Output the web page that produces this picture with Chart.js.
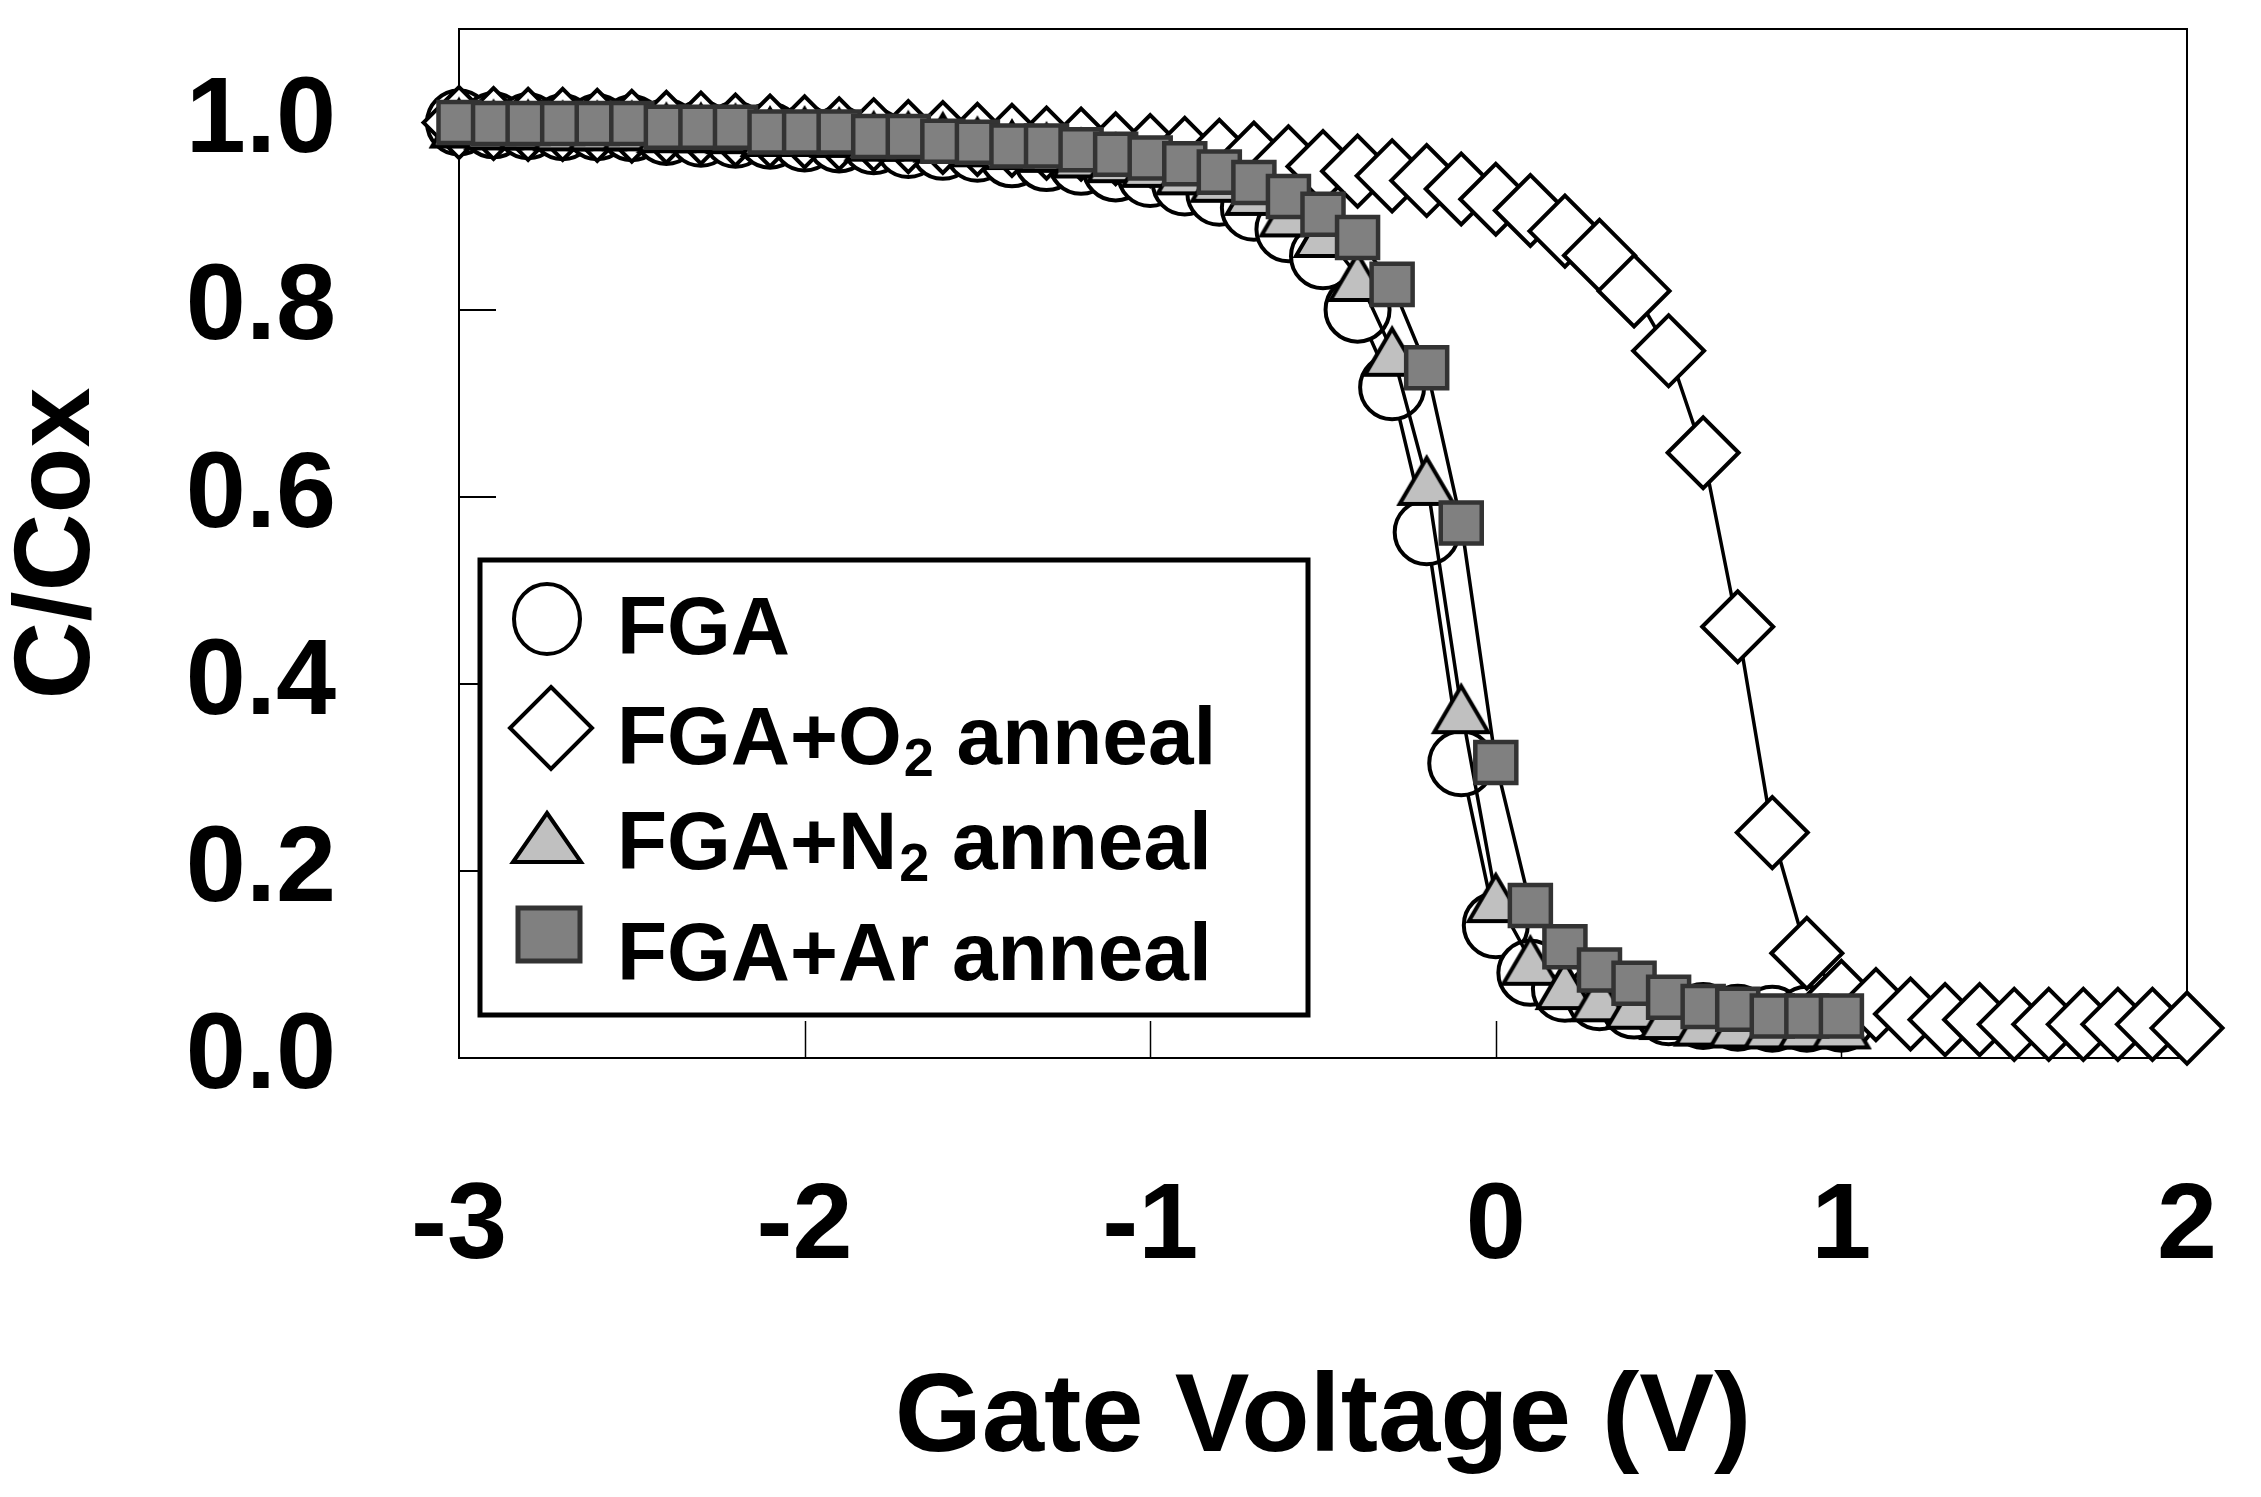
<!DOCTYPE html>
<html>
<head>
<meta charset="utf-8">
<title>C/Cox vs Gate Voltage</title>
<script src="https://cdn.jsdelivr.net/npm/chart.js@4.4.1/dist/chart.umd.min.js"></script>
<style>
    html, body { margin: 0; padding: 0; background: #ffffff; }
    #cv { display: block; }
</style>
</head>
<body>
<canvas id="cv" width="2261" height="1497"></canvas>
<script>
// ======== data ========
// gate voltage (V), 0.1 V steps
const vShort = [-3.0, -2.9, -2.8, -2.7, -2.6, -2.5, -2.4, -2.3, -2.2, -2.1,
    -2.0, -1.9, -1.8, -1.7, -1.6, -1.5, -1.4, -1.3, -1.2, -1.1,
    -1.0, -0.9, -0.8, -0.7, -0.6, -0.5, -0.4, -0.3, -0.2, -0.1,
    0.0, 0.1, 0.2, 0.3, 0.4, 0.5, 0.6, 0.7, 0.8, 0.9, 1.0];
const vLong = vShort.concat([1.1, 1.2, 1.3, 1.4, 1.5, 1.6, 1.7, 1.8, 1.9, 2.0]);

const fga = [1.000, 0.997, 0.996, 0.995, 0.995, 0.994, 0.990, 0.988, 0.987, 0.986,
    0.983, 0.982, 0.980, 0.976, 0.974, 0.972, 0.966, 0.962, 0.958, 0.951,
    0.945, 0.936, 0.925, 0.909, 0.886, 0.857, 0.800, 0.717, 0.562, 0.315,
    0.142, 0.091, 0.074, 0.065, 0.056, 0.049, 0.045, 0.043, 0.042, 0.042, 0.042];

const fgaO2 = [1.000, 0.999, 0.998, 0.998, 0.997, 0.996, 0.995, 0.994, 0.992, 0.991,
    0.990, 0.988, 0.987, 0.985, 0.984, 0.982, 0.981, 0.978, 0.977, 0.972,
    0.970, 0.967, 0.965, 0.962, 0.958, 0.953, 0.948, 0.943, 0.938, 0.929,
    0.918, 0.906, 0.884, 0.858, 0.820, 0.756, 0.647, 0.461, 0.241, 0.112, 0.066,
    0.057, 0.047, 0.041, 0.041, 0.036, 0.036, 0.036, 0.036, 0.036, 0.032];

const fgaN2 = [1.000, 0.998, 0.998, 0.997, 0.997, 0.997, 0.995, 0.995, 0.994, 0.991,
    0.991, 0.990, 0.986, 0.986, 0.985, 0.980, 0.977, 0.974, 0.968, 0.963,
    0.958, 0.950, 0.942, 0.928, 0.905, 0.883, 0.836, 0.756, 0.618, 0.374,
    0.172, 0.105, 0.079, 0.066, 0.058, 0.047, 0.040, 0.038, 0.037, 0.037, 0.037];

const fgaAr = [1.000, 0.999, 0.999, 0.999, 0.999, 0.999, 0.995, 0.995, 0.995, 0.990,
    0.990, 0.990, 0.985, 0.985, 0.980, 0.979, 0.975, 0.975, 0.971, 0.966,
    0.962, 0.956, 0.947, 0.936, 0.921, 0.902, 0.877, 0.827, 0.738, 0.572,
    0.316, 0.163, 0.119, 0.094, 0.080, 0.065, 0.055, 0.052, 0.045, 0.045, 0.045];

// legend rows: main text, subscript, rest
const legendRows = [
    ['FGA', '', ''],
    ['FGA+O', '2', ' anneal'],
    ['FGA+N', '2', ' anneal'],
    ['FGA+Ar anneal', '', '']
];

const xTickMarks = [-2, -1, 0, 1];
const yTickMarks = [0.2, 0.4, 0.6, 0.8, 1.0];

const FONT = '"Liberation Sans", Arial, Helvetica, sans-serif';

function toPoints(xs, ys) {
    return ys.map((y, i) => ({ x: xs[i], y: y }));
}

// triangle marker centred on its bounding box (like the original plot)
function triangleMarker(w, h, fill) {
    const c = document.createElement('canvas');
    c.width = w + 8;
    c.height = h + 8;
    const g = c.getContext('2d');
    g.lineWidth = 4;
    g.lineJoin = 'miter';
    g.fillStyle = fill;
    g.strokeStyle = '#000000';
    g.beginPath();
    g.moveTo(c.width / 2, 4 + 4);
    g.lineTo(c.width - 4, c.height - 4 - 2);
    g.lineTo(4, c.height - 4 - 2);
    g.closePath();
    g.fill();
    g.stroke();
    return c;
}

const triMarker = triangleMarker(54, 52, '#c0c0c0');

// ======== frame + inner tick marks ========
const framePlugin = {
    id: 'frame',
    beforeDatasetsDraw(chart) {
        const ctx = chart.ctx;
        const ca = chart.chartArea;
        const xs = chart.scales.x;
        const ys = chart.scales.y;
        ctx.save();
        ctx.strokeStyle = '#000000';
        ctx.lineWidth = 2;
        ctx.strokeRect(ca.left, ca.top, ca.right - ca.left, ca.bottom - ca.top);

        ctx.lineWidth = 1.5;
        xTickMarks.forEach(v => {
            const px = Math.round(xs.getPixelForValue(v)) + 0.5;
            ctx.beginPath();
            ctx.moveTo(px, ca.bottom);
            ctx.lineTo(px, ca.bottom - 37);
            ctx.stroke();
        });
        ctx.lineWidth = 2;
        yTickMarks.forEach(v => {
            const py = Math.round(ys.getPixelForValue(v));
            ctx.beginPath();
            ctx.moveTo(ca.left, py);
            ctx.lineTo(ca.left + 37, py);
            ctx.stroke();
        });
        ctx.restore();
    }
};

// ======== boxed legend inside the plot ========
const legendPlugin = {
    id: 'boxLegend',
    afterDatasetsDraw(chart) {
        const ctx = chart.ctx;
        const ca = chart.chartArea;
        const bx = ca.left + 21;
        const by = ca.top + 531;
        const bw = 828;
        const bh = 455;
        ctx.save();
        ctx.fillStyle = '#ffffff';
        ctx.fillRect(bx, by, bw, bh);
        ctx.strokeStyle = '#000000';
        ctx.lineWidth = 5;
        ctx.strokeRect(bx, by, bw, bh);

        const mx = bx + 69;
        const markerY = [by + 59, by + 168, by + 277, by + 374];
        const baseY = [by + 94, by + 204, by + 309, by + 420];

        // circle
        ctx.lineWidth = 4;
        ctx.strokeStyle = '#000000';
        ctx.fillStyle = '#ffffff';
        ctx.beginPath();
        ctx.ellipse(mx - 2, markerY[0], 33, 35, 0, 0, Math.PI * 2);
        ctx.fill();
        ctx.stroke();
        // diamond
        ctx.beginPath();
        ctx.moveTo(mx + 2, markerY[1] - 41);
        ctx.lineTo(mx + 43, markerY[1]);
        ctx.lineTo(mx + 2, markerY[1] + 41);
        ctx.lineTo(mx - 39, markerY[1]);
        ctx.closePath();
        ctx.fill();
        ctx.stroke();
        // triangle
        ctx.fillStyle = '#c0c0c0';
        ctx.beginPath();
        ctx.moveTo(mx - 2, markerY[2] - 24);
        ctx.lineTo(mx + 32, markerY[2] + 25);
        ctx.lineTo(mx - 36, markerY[2] + 25);
        ctx.closePath();
        ctx.fill();
        ctx.stroke();
        // square
        ctx.fillStyle = '#808080';
        ctx.strokeStyle = '#333333';
        ctx.lineWidth = 5;
        ctx.fillRect(mx - 31, markerY[3] - 26, 62, 53);
        ctx.strokeRect(mx - 31, markerY[3] - 26, 62, 53);

        // text
        ctx.fillStyle = '#000000';
        ctx.textBaseline = 'alphabetic';
        ctx.textAlign = 'left';
        const tx = bx + 137;
        legendRows.forEach((row, i) => {
            let x = tx;
            ctx.font = 'bold 82px ' + FONT;
            ctx.fillText(row[0], x, baseY[i]);
            x += ctx.measureText(row[0]).width;
            if (row[1]) {
                ctx.font = 'bold 54px ' + FONT;
                ctx.fillText(row[1], x + 2, baseY[i] + 12);
                x += ctx.measureText(row[1]).width + 2;
                ctx.font = 'bold 82px ' + FONT;
                ctx.fillText(row[2], x, baseY[i]);
            }
        });
        ctx.restore();
    }
};

document.addEventListener('DOMContentLoaded', function() {
    const ctx = document.getElementById('cv');

    new Chart(ctx, {
        type: 'scatter',
        data: {
            datasets: [
                {
                    label: 'FGA',
                    data: toPoints(vShort, fga),
                    showLine: true,
                    borderColor: '#000000',
                    borderWidth: 3.5,
                    pointStyle: 'circle',
                    pointRadius: 32,
                    pointBorderWidth: 4,
                    pointBackgroundColor: '#ffffff',
                    pointBorderColor: '#000000',
                    order: 4,
                    clip: false
                },
                {
                    label: 'FGA+O2 anneal',
                    data: toPoints(vLong, fgaO2),
                    showLine: true,
                    borderColor: '#000000',
                    borderWidth: 3.5,
                    pointStyle: 'rectRot',
                    pointRadius: 35.5,
                    pointBorderWidth: 4,
                    pointBackgroundColor: '#ffffff',
                    pointBorderColor: '#000000',
                    order: 3,
                    clip: false
                },
                {
                    label: 'FGA+N2 anneal',
                    data: toPoints(vShort, fgaN2),
                    showLine: true,
                    borderColor: '#000000',
                    borderWidth: 3.5,
                    pointStyle: triMarker,
                    pointRadius: 30,
                    pointBorderWidth: 4,
                    pointBackgroundColor: '#c0c0c0',
                    pointBorderColor: '#000000',
                    order: 2,
                    clip: false
                },
                {
                    label: 'FGA+Ar anneal',
                    data: toPoints(vShort, fgaAr),
                    showLine: true,
                    borderColor: '#000000',
                    borderWidth: 3.5,
                    pointStyle: 'rect',
                    pointRadius: 29,
                    pointBorderWidth: 4.5,
                    pointBackgroundColor: '#808080',
                    pointBorderColor: '#333333',
                    order: 1,
                    clip: false
                }
            ]
        },
        options: {
            responsive: false,
            devicePixelRatio: 1,
            animation: false,
            layout: {
                autoPadding: false,
                padding: { left: 0, top: 29, right: 74, bottom: 0 }
            },
            plugins: {
                legend: { display: false },
                tooltip: { enabled: false }
            },
            scales: {
                x: {
                    type: 'linear',
                    position: 'bottom',
                    min: -3,
                    max: 2,
                    // fixed axis band; drop the edge margins Chart.js adds for labels
                    afterFit: function(scale) {
                        scale.height = 439;
                        scale.paddingLeft = 0;
                        scale.paddingRight = 0;
                    },
                    grid: { display: false, drawTicks: false },
                    border: { display: false },
                    ticks: {
                        stepSize: 1,
                        padding: 116,
                        color: '#000000',
                        font: { family: FONT, size: 108, weight: 'bold', lineHeight: 1 },
                        callback: v => String(v)
                    },
                    title: {
                        display: true,
                        text: 'Gate Voltage (V)',
                        color: '#000000',
                        font: { family: FONT, size: 112, weight: 'bold', lineHeight: 1 },
                        padding: { top: 0, bottom: 21 }
                    }
                },
                y: {
                    type: 'linear',
                    position: 'left',
                    min: 0,
                    max: 1.1,
                    afterFit: function(scale) {
                        scale.width = 459;
                        scale.paddingTop = 0;
                        scale.paddingBottom = 0;
                    },
                    grid: { display: false, drawTicks: false },
                    border: { display: false },
                    ticks: {
                        stepSize: 0.2,
                        includeBounds: false,
                        padding: 123,
                        color: '#000000',
                        font: { family: FONT, size: 108, weight: 'bold', lineHeight: 1 },
                        callback: v => Number(v).toFixed(1)
                    },
                    title: {
                        display: true,
                        text: 'C/Cox',
                        color: '#000000',
                        font: { family: FONT, size: 108, weight: 'bold', lineHeight: 1 },
                        padding: { top: 5, bottom: 0 }
                    }
                }
            }
        },
        plugins: [framePlugin, legendPlugin]
    });
});
</script>
</body>
</html>
